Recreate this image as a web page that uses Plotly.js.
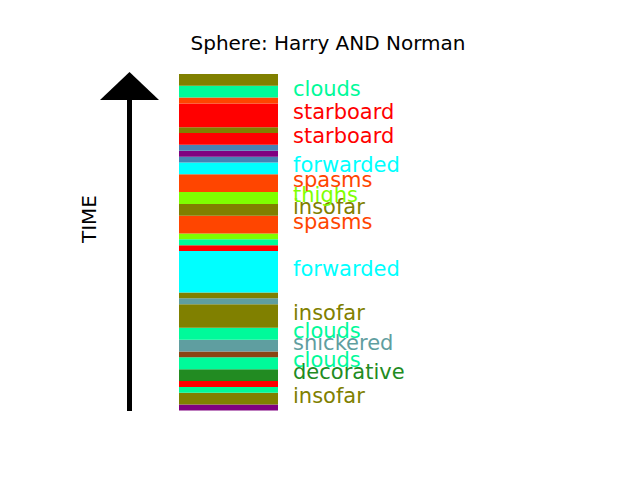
<!DOCTYPE html>
<html>
<head>
<meta charset="utf-8">
<script src="https://cdn.plot.ly/plotly-3.0.1.min.js"></script>
<style>html,body{margin:0;padding:0;background:#fff;}#chart{width:640px;height:480px;}</style>
</head>
<body>
<div id="chart"></div>
<script>
// Segments listed from bottom (earliest) to top (latest)
const segmentColors = ["purple","olive","mediumspringgreen","red","forestgreen","mediumspringgreen","saddlebrown","cadetblue","mediumspringgreen","olive","cadetblue","olive","cyan","red","mediumspringgreen","chartreuse","orangered","olive","chartreuse","orangered","cyan","steelblue","purple","steelblue","red","olive","red","orangered","mediumspringgreen","olive"];
const segmentDurations = [1,2,1,1,2,2,1,2,2,4,1,1,7,1,1,1,3,2,2,3,2,1,1,1,2,1,4,1,2,2];
const segmentLabels = ["","insofar","","","decorative","clouds","","snickered","clouds","insofar","","","forwarded","","","","spasms","insofar","thighs","spasms","forwarded","","","","starboard","","starboard","","clouds",""];
const chartTitle = "Sphere: Harry AND Norman";
const axisLabel = "TIME";

const W = 640, H = 480;
const barTopPx = 74, barBottomPx = 410.5, barCenterPx = 228.5, barWidthPx = 99;
const total = segmentDurations.reduce((a,b)=>a+b,0);
const unitPx = (barBottomPx - barTopPx) / total;
const yMin = -(H - barBottomPx) / unitPx;
const yMax = barBottomPx / unitPx;

const bases = [];
let acc = 0;
segmentDurations.forEach(d => { bases.push(acc); acc += d; });

const trace = {
  type: 'bar',
  x: segmentDurations.map(() => barCenterPx),
  y: segmentDurations,
  base: bases,
  width: segmentDurations.map(() => barWidthPx),
  marker: {color: segmentColors, line: {width: 0}},
  hoverinfo: 'skip',
  showlegend: false
};

const font = "DejaVu Sans, sans-serif";
const annotations = [];
segmentLabels.forEach((lab, i) => {
  if (!lab) return;
  annotations.push({
    x: 290.5, y: bases[i] + segmentDurations[i] / 2,
    xref: 'x', yref: 'y',
    text: lab, showarrow: false,
    xanchor: 'left', yanchor: 'middle', yshift: 3,
    font: {family: font, size: 21, color: segmentColors[i]}
  });
});
annotations.push({
  x: 89 / W, y: 1 - 220 / H, xref: 'paper', yref: 'paper',
  text: axisLabel, showarrow: false, textangle: -90,
  xanchor: 'center', yanchor: 'middle',
  font: {family: font, size: 20, color: 'black'}
});

const py = p => 1 - p / H;
const shapes = [
  {type: 'line', xref: 'x', yref: 'paper', x0: 129.5, x1: 129.5, y0: py(411), y1: py(98),
   line: {color: 'black', width: 5}},
  {type: 'path', xref: 'x', yref: 'paper',
   path: `M 100,${py(100)} L 159,${py(100)} L 129.5,${py(72)} Z`,
   fillcolor: 'black', line: {color: 'black', width: 0}}
];

const layout = {
  width: W, height: H,
  margin: {l: 0, r: 0, t: 0, b: 0},
  paper_bgcolor: 'white', plot_bgcolor: 'white',
  title: {text: chartTitle, x: 328 / W, y: 1 - 43 / H, xanchor: 'center', yanchor: 'middle',
          xref: 'paper', yref: 'paper', font: {family: font, size: 20, color: 'black'}},
  xaxis: {range: [0, W], visible: false, fixedrange: true},
  yaxis: {range: [yMin, yMax], visible: false, fixedrange: true},
  barmode: 'overlay',
  annotations: annotations,
  shapes: shapes,
  showlegend: false
};

Plotly.newPlot('chart', [trace], layout, {staticPlot: true, displayModeBar: false});
</script>
</body>
</html>
